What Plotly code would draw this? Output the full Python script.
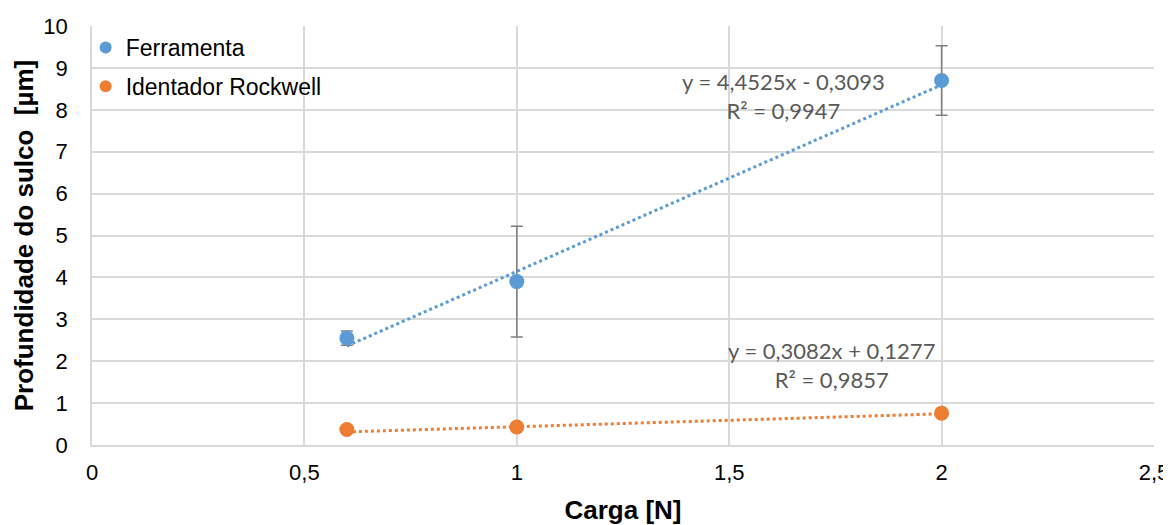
import plotly.graph_objects as go

carga = [0.6, 1.0, 2.0]
ferramenta = [2.55, 3.9, 8.7]
ferramenta_err = [0.17, 1.32, 0.83]
rockwell = [0.37, 0.43, 0.76]

fit_ferr = (4.4525, -0.3093)
fit_rock = (0.3082, 0.1277)
eq_ferr = "y = 4,4525x - 0,3093<br>R² = 0,9947"
eq_rock = "y = 0,3082x + 0,1277<br>R² = 0,9857"

x_ticks = [0, 0.5, 1, 1.5, 2, 2.5]
x_tick_labels = ["0", "0,5", "1", "1,5", "2", "2,5"]
y_ticks = list(range(0, 11))

BLUE = "#5B9BD5"
ORANGE = "#ED7D31"
GRID = "#d9d9d9"
EQ_FONT = dict(family="Lato, Open Sans, sans-serif", size=22, color="#595959")

fx = [min(carga), max(carga)]
fig = go.Figure()
fig.add_trace(go.Scatter(x=fx, y=[fit_ferr[0] * v + fit_ferr[1] for v in fx], mode="lines",
                         line=dict(color=BLUE, width=3, dash="dot"), showlegend=False, hoverinfo="skip"))
fig.add_trace(go.Scatter(x=fx, y=[fit_rock[0] * v + fit_rock[1] for v in fx], mode="lines",
                         line=dict(color=ORANGE, width=3, dash="dot"), showlegend=False, hoverinfo="skip"))
fig.add_trace(go.Scatter(x=carga, y=ferramenta, mode="markers", name="Ferramenta", legendgroup="a",
                         marker=dict(color=BLUE, size=15),
                         error_y=dict(type="data", array=ferramenta_err, color="#7f7f7f", thickness=1.5, width=6)))
fig.add_trace(go.Scatter(x=carga, y=rockwell, mode="markers", name="Identador Rockwell", legendgroup="b",
                         marker=dict(color=ORANGE, size=15)))

fig.add_annotation(x=1.627, y=8.34, text=eq_ferr, showarrow=False, xref="x", yref="y", font=EQ_FONT)
fig.add_annotation(x=1.74, y=1.9, text=eq_rock, showarrow=False, xref="x", yref="y", font=EQ_FONT)

fig.update_layout(
    width=1164, height=518,
    margin=dict(l=84, r=18, t=18, b=81, autoexpand=False),
    plot_bgcolor="white", paper_bgcolor="white",
    separators=",.",
    font=dict(family="Liberation Sans, Arial, sans-serif", size=22, color="#000000"),
    legend=dict(x=-0.006, y=1.0, xanchor="left", yanchor="top", bgcolor="rgba(0,0,0,0)",
                traceorder="grouped", tracegroupgap=6, itemwidth=30, itemsizing="constant",
                font=dict(size=23, color="#000000")),
    xaxis=dict(range=[0, 2.5], tickvals=x_ticks, ticktext=x_tick_labels, showgrid=True, gridcolor=GRID,
               gridwidth=1.5, zeroline=False, showline=True, linecolor=GRID, linewidth=1.5,
               ticks="", ticklabelstandoff=7, automargin=False,
               title=dict(text="<b>Carga [N]</b>", font=dict(size=26), standoff=17)),
    yaxis=dict(range=[0, 10], tickvals=y_ticks, showgrid=True, gridcolor=GRID, gridwidth=1.5,
               zeroline=False, showline=True, linecolor=GRID, linewidth=1.5, ticks="",
               ticklabelstandoff=18, automargin=False,
               title=dict(text="<b>Profundidade do sulco  [µm]</b>", font=dict(size=26), standoff=2)),
)

fig.write_html("out.html")
